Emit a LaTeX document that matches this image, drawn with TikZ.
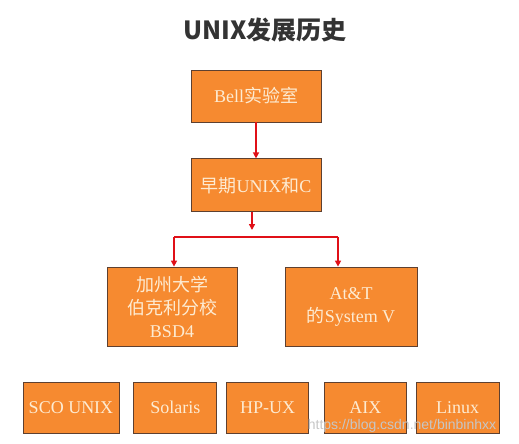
\documentclass[tikz,border=0pt]{standalone}
\usepackage{fontspec}
\setmainfont{Liberation Serif}
\newfontfamily\cjk{Noto Sans CJK SC}
\newfontfamily\wmfont{Liberation Sans}
\usepackage{tikz}
\usetikzlibrary{arrows.meta, positioning}
\usepackage{xcolor}
\definecolor{boxfill}{HTML}{F68A30}
\definecolor{boxline}{HTML}{5E4030}
\definecolor{boxtext}{HTML}{FDEBD2}
\definecolor{linkred}{HTML}{E01018}
\definecolor{titlegray}{HTML}{333333}
\tikzstyle{block} = [rectangle, minimum height=52pt, inner sep=0pt, align=center, text centered, draw=boxline, line width=0.8pt, fill=boxfill, text=boxtext, font=\fontsize{18}{23}\selectfont]
\tikzstyle{arrow} = [draw=linkred, line width=1.4pt, -{Triangle[width=6pt,length=6pt]}]
\tikzstyle{line} = [draw=linkred, line width=1.4pt]

\begin{document}
\begin{tikzpicture}[x=1pt, y=1pt]
  \useasboundingbox (0,0) rectangle (519,-444);

  % Title
  \node[font=\cjk\bfseries\fontsize{25}{28}\selectfont, text=titlegray] (title) at (265,-30) {UNIX发展历史};

  % Main chain
  \node[block, minimum width=130pt] (bell) at (256,-96) {Bell{\cjk 实验室}};
  \node[block, minimum width=130pt, minimum height=53pt, below=36pt of bell] (early) {{\cjk 早期}UNIX{\cjk 和}C};

  % Branches
  \node[block, minimum width=130pt, minimum height=79pt] (bsd) at (172,-306.5) {{\cjk 加州大学}\\{\cjk 伯克利分校}\\BSD4};
  \node[block, minimum width=132pt, minimum height=79pt] (att) at (351,-306.5) {At\&T\\{\cjk 的}System V};

  % Descendants
  \node[block, minimum width=96pt, minimum height=51pt] (sco) at (71,-407.5) {SCO UNIX};
  \node[block, minimum width=83pt, minimum height=51pt, right=14pt of sco] (solaris) {Solaris};
  \node[block, minimum width=82pt, minimum height=51pt, right=9pt of solaris] (hpux) {HP-UX};
  \node[block, minimum width=82pt, minimum height=51pt, right=15pt of hpux] (aix) {AIX};
  \node[block, minimum width=83pt, minimum height=51pt, right=9pt of aix] (linux) {Linux};

  % Watermark
  \node[font=\wmfont\fontsize{14}{16}\selectfont, text=gray!45] (mark) at (402,-426) {https://blog.csdn.net/binbinhxx};

  % Links
  \coordinate (fork) at (252,-230);
  \coordinate (bar) at (252,-237);
  \draw[arrow] (bell) -- (early);
  \draw[arrow] ([xshift=-4pt]early.south) -- (fork);
  \draw[line] (bar) -- (174,-237);
  \draw[line] (bar) -- (338,-237);
  \draw[arrow] (174,-237) -- ([xshift=2pt]bsd.north);
  \draw[arrow] (338,-237) -- ([xshift=-13pt]att.north);
\end{tikzpicture}
\end{document}
